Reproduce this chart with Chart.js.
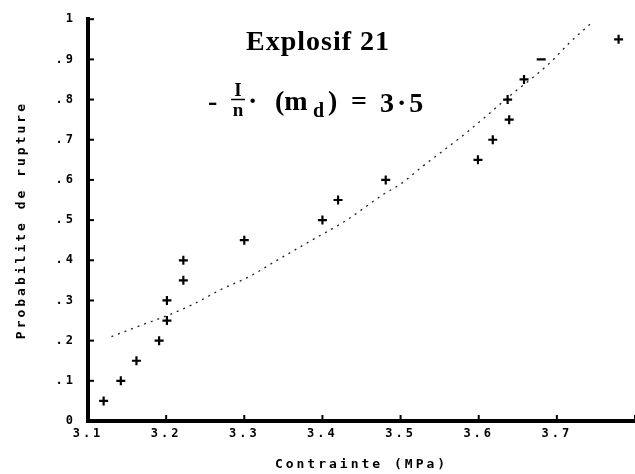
<!DOCTYPE html>
<html>
<head>
<meta charset="utf-8">
<script src="https://cdn.jsdelivr.net/npm/chart.js@4"></script>
<style>
  html, body { margin: 0; padding: 0; background: #fff; }
  #wrap { width: 635px; height: 474px; position: relative; }
</style>
</head>
<body>
<div id="wrap"><canvas id="chart"></canvas></div>
<script>
/* Probabilite de rupture vs contrainte - Explosif 21 */

// observed rupture probabilities
const stressValues = [3.120, 3.142, 3.162, 3.191, 3.201, 3.201, 3.222, 3.222, 3.300, 3.400,
                      3.420, 3.481, 3.599, 3.618, 3.639, 3.637, 3.658, 3.680, 3.779];
const probValues   = [0.05, 0.10, 0.15, 0.20, 0.25, 0.30, 0.35, 0.40, 0.45, 0.50,
                      0.55, 0.60, 0.65, 0.70, 0.75, 0.80, 0.85, 0.90, 0.95];

// fitted curve (dotted)
const fitStress = [3.130, 3.166, 3.201, 3.235, 3.273, 3.307, 3.341, 3.380, 3.431, 3.478,
                   3.501, 3.527, 3.554, 3.582, 3.608, 3.644, 3.665, 3.692, 3.716, 3.745];
const fitProb   = [0.210, 0.237, 0.262, 0.291, 0.330, 0.360, 0.399, 0.443, 0.500, 0.564,
                   0.591, 0.632, 0.672, 0.714, 0.756, 0.816, 0.848, 0.893, 0.941, 0.992];

const yTickLabels = ['0', '.1', '.2', '.3', '.4', '.5', '.6', '.7', '.8', '.9', '1'];
const xTickLabels = ['3.1', '3.2', '3.3', '3.4', '3.5', '3.6', '3.7', ''];

const TITLE = 'Explosif 21';
const X_TITLE = 'Contrainte (MPa)';
const Y_TITLE = 'Probabilite de rupture';

const MONO = '"DejaVu Sans Mono", monospace';
const SERIF = '"Liberation Serif", serif';

const decorPlugin = {
    id: 'decor',
    beforeDraw(chart) {
        chart.ctx.letterSpacing = '3px';
    },
    afterDraw(chart) {
        const ctx = chart.ctx;
        const xs = chart.scales.x;
        const ys = chart.scales.y;

        // tick marks drawn inside the plot
        ctx.save();
        ctx.letterSpacing = '0px';
        ctx.strokeStyle = '#000';
        ctx.lineWidth = 2;
        for (const t of xs.ticks) {
            const px = xs.getPixelForValue(t.value);
            ctx.beginPath();
            ctx.moveTo(px, ys.bottom);
            ctx.lineTo(px, ys.bottom - 6);
            ctx.stroke();
        }
        for (const t of ys.ticks) {
            const py = ys.getPixelForValue(t.value);
            ctx.beginPath();
            ctx.moveTo(xs.left, py);
            ctx.lineTo(xs.left + 6, py);
            ctx.stroke();
        }

        // title block
        ctx.fillStyle = '#000';
        ctx.textBaseline = 'alphabetic';
        ctx.textAlign = 'center';
        ctx.letterSpacing = '1px';
        ctx.font = `bold 28px ${SERIF}`;
        ctx.fillText(TITLE, 318, 50);

        ctx.letterSpacing = '0px';
        ctx.textAlign = 'left';
        ctx.font = `bold 28px ${SERIF}`;
        ctx.fillText('-', 208, 110);
        // fraction I / n
        ctx.textAlign = 'center';
        ctx.font = `bold 19px ${SERIF}`;
        ctx.fillText('I', 238, 96);
        ctx.fillText('n', 238, 116);
        ctx.lineWidth = 1.5;
        ctx.beginPath();
        ctx.moveTo(231, 99.5);
        ctx.lineTo(245, 99.5);
        ctx.stroke();
        ctx.textAlign = 'left';
        ctx.font = `bold 28px ${SERIF}`;
        ctx.fillText('\u00b7', 248, 110);
        ctx.fillText('(m', 275, 110);
        ctx.font = `bold 20px ${SERIF}`;
        ctx.fillText('d', 313, 117);
        ctx.font = `bold 28px ${SERIF}`;
        ctx.fillText(')', 328, 110);
        ctx.fillText('=', 351, 110);
        ctx.letterSpacing = '3px';
        ctx.fillText('3\u00b75', 380, 112);
        ctx.restore();
    },
};

new Chart(document.getElementById('chart'), {
    type: 'scatter',
    data: {
        datasets: [
            {
                label: 'Observations',
                data: stressValues.map((x, i) => ({ x, y: probValues[i] })),
                pointStyle: ctx => (ctx.dataIndex === 17 ? 'line' : 'cross'),
                pointRadius: 4.5,
                pointBorderWidth: 2.2,
                borderColor: '#000',
                backgroundColor: '#000',
            },
            {
                label: 'Ajustement',
                data: fitStress.map((x, i) => ({ x, y: fitProb[i] })),
                showLine: true,
                pointRadius: 0,
                borderColor: '#222',
                borderWidth: 1.3,
                borderDash: [2, 5],
                cubicInterpolationMode: 'monotone',
            },
        ],
    },
    options: {
        responsive: true,
        maintainAspectRatio: false,
        animation: false,
        layout: { autoPadding: false, padding: { top: 16, right: 0, left: 0, bottom: 0 } },
        plugins: {
            legend: { display: false },
            tooltip: { enabled: false },
        },
        scales: {
            x: {
                type: 'linear',
                min: 3.1,
                max: 3.8,
                afterFit: s => { s.height = 53; s.paddingRight = 0; s.paddingLeft = 0; },
                grid: { display: false, drawTicks: false },
                border: { display: true, color: '#000', width: 4 },
                ticks: {
                    stepSize: 0.1,
                    autoSkip: false,
                    maxRotation: 0,
                    padding: 6,
                    color: '#000',
                    font: { family: MONO, size: 12, weight: 'bold' },
                    callback: (v, i) => xTickLabels[i] ?? '',
                },
                title: {
                    display: true,
                    text: X_TITLE,
                    color: '#000',
                    font: { family: MONO, size: 13, weight: 'bold' },
                    padding: { bottom: 2, top: 0 },
                },
            },
            y: {
                min: 0,
                max: 1,
                afterFit: s => { s.width = 88; },
                grid: { display: false, drawTicks: false },
                border: { display: true, color: '#000', width: 4 },
                ticks: {
                    stepSize: 0.1,
                    autoSkip: false,
                    padding: 12,
                    color: '#000',
                    font: { family: MONO, size: 12, weight: 'bold' },
                    callback: (v) => yTickLabels[Math.round(v * 10)],
                },
                title: {
                    display: true,
                    text: Y_TITLE,
                    color: '#000',
                    font: { family: MONO, size: 13, weight: 'bold' },
                    padding: { top: 14, bottom: 0 },
                },
            },
        },
    },
    plugins: [decorPlugin],
});
</script>
</body>
</html>
